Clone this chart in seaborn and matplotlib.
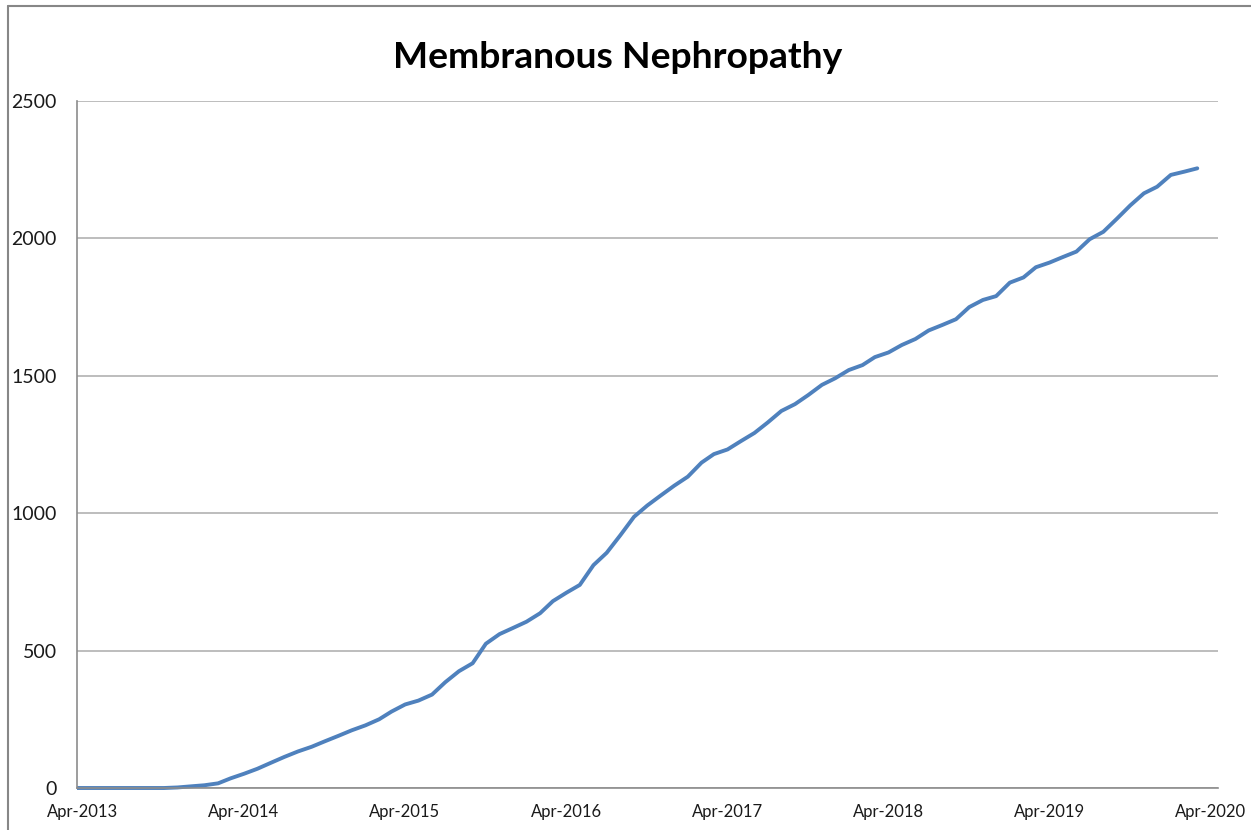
import pandas as pd
import seaborn as sns
import matplotlib.pyplot as plt
import matplotlib.dates as mdates
from matplotlib.lines import Line2D
from matplotlib.transforms import Bbox, TransformedBbox, ScaledTranslation

# Dados: casos acumulados, um ponto por mês (meados do mês, mar/2013 a mar/2020)
meses = pd.date_range('2013-03-01', '2020-03-01', freq='MS') + pd.Timedelta(days=14)
casos = [0,
         0, 0, 0, 0, 0, 0, 0, 2, 6, 10, 17, 35,
         52, 70, 92, 113, 133, 150, 170, 190, 210, 228, 250, 278,
         304, 318, 340, 385, 425, 454, 525, 560, 582, 605, 636, 680,
         711, 739, 811, 856, 920, 987, 1028, 1065, 1100, 1133, 1184, 1215,
         1232, 1262, 1292, 1330, 1372, 1397, 1430, 1467, 1491, 1521, 1539, 1568,
         1585, 1612, 1634, 1665, 1685, 1706, 1750, 1776, 1790, 1839, 1858, 1895,
         1912, 1932, 1952, 1997, 2024, 2072, 2120, 2164, 2188, 2231, 2243, 2255]
anos_ticks = pd.date_range('2013-04-01', '2020-04-01', freq='12MS')
y_ticks = [0, 500, 1000, 1500, 2000, 2500]
titulo = 'Membranous Nephropathy'

df = pd.DataFrame({'mes': meses, 'casos': casos})

sns.set_style('white')
plt.rcParams['font.family'] = ['Lato', 'DejaVu Sans']

W, H = 1251, 830
fig = plt.figure(figsize=(W / 100, H / 100), dpi=100)
ax = fig.add_axes([77 / W, 42 / H, 1141 / W, 687 / H])

sns.lineplot(data=df, x='mes', y='casos', ax=ax, color='#4F81BD', linewidth=2.8)

# deixa a linha aparecer inteira sobre o eixo em y=0, mas corta nas laterais
linha = ax.lines[0]
linha.set_clip_box(TransformedBbox(Bbox([[0, -0.05], [1, 1.05]]), ax.transAxes))

ax.set_xlim(pd.Timestamp('2013-04-01'), pd.Timestamp('2020-05-01'))
ax.set_ylim(0, 2500)
ax.set_xticks(anos_ticks)
ax.xaxis.set_major_formatter(mdates.DateFormatter('%b-%Y'))
ax.set_yticks(y_ticks)

ax.yaxis.grid(True, color='#BDBDBD', linewidth=1.4)
ax.set_axisbelow(True)
for lado in ['top', 'right']:
    ax.spines[lado].set_visible(False)
for lado in ['left', 'bottom']:
    ax.spines[lado].set_color('#8C8C8C')
    ax.spines[lado].set_linewidth(1.2)

ax.tick_params(axis='x', direction='out', length=5, width=1, color='#8C8C8C',
               labelsize=12, labelcolor='#1a1a1a', pad=6.5)
ax.tick_params(axis='y', direction='out', length=5, width=1, color='#8C8C8C',
               labelsize=14, labelcolor='#1a1a1a', pad=9.5)
ax.set_xlabel('')
ax.set_ylabel('')

# rótulos do eixo x levemente deslocados para a direita, como no Excel
desloc = ScaledTranslation(6 / 100, 0, fig.dpi_scale_trans)
for rotulo in ax.get_xticklabels():
    rotulo.set_transform(rotulo.get_transform() + desloc)

fig.text(618 / W, 1 - 58 / H, titulo, ha='center', va='center',
         fontsize=26.8, fontweight='bold', color='black')

# moldura do gráfico (borda esquerda e superior)
fig.add_artist(Line2D([8 / W, 8 / W], [0, 1 - 6 / H], transform=fig.transFigure,
                      color='#878787', linewidth=1.5))
fig.add_artist(Line2D([8 / W, 1], [1 - 6 / H, 1 - 6 / H], transform=fig.transFigure,
                      color='#878787', linewidth=1.5))

plt.savefig('out.png', dpi=100)
plt.close()
